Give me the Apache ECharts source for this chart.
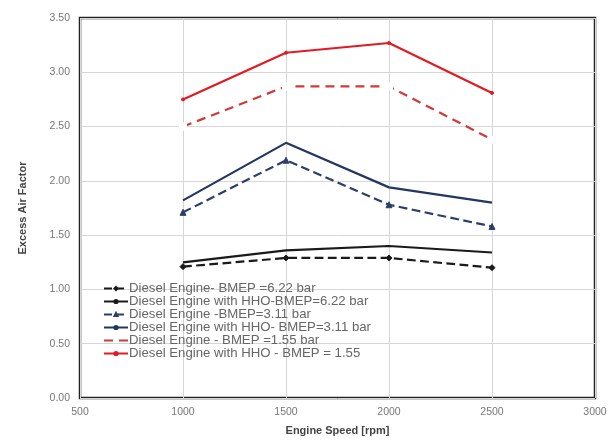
<!DOCTYPE html>
<html><head><meta charset="utf-8">
<script src="https://cdn.jsdelivr.net/npm/echarts@6/dist/echarts.min.js"></script>
<style>html,body{margin:0;padding:0;background:#fff}#c{width:610px;height:445px}</style>
</head><body><div id="c"></div>
<script>
const speeds = [1000, 1500, 2000, 2500];
const deBmep622 = [1.21, 1.29, 1.29, 1.20];
const hhoBmep622 = [1.25, 1.36, 1.40, 1.34];
const deBmep311 = [1.71, 2.19, 1.78, 1.58];
const hhoBmep311 = [1.82, 2.35, 1.94, 1.80];
const deBmep155 = [2.50, 2.87, 2.87, 2.38];
const hhoBmep155 = [2.75, 3.18, 3.27, 2.81];
const seriesNames = [
  'Diesel Engine- BMEP =6.22 bar',
  'Diesel Engine with HHO-BMEP=6.22 bar',
  'Diesel Engine -BMEP=3.11 bar',
  'Diesel Engine with HHO- BMEP=3.11 bar',
  'Diesel Engine - BMEP =1.55 bar',
  'Diesel Engine with HHO - BMEP = 1.55'
];
const seriesData = [deBmep622, hhoBmep622, deBmep311, hhoBmep311, deBmep155, hhoBmep155];
const styles = [
  {color:'#1a1a1a', type:'dashed', width:2.2, symbol:'diamond', size:6},
  {color:'#1a1a1a', type:'solid', width:2.2, symbol:'none', size:0},
  {color:'#2b3f6c', type:'dashed', width:2.2, symbol:'triangle', size:6},
  {color:'#24375f', type:'solid', width:2.2, symbol:'none', size:0},
  {color:'#cf3b3b', type:[9,6], width:2.2, symbol:'emptyRect', size:6},
  {color:'#e01b24', type:'solid', width:2.2, symbol:'circle', size:3}
];
const series = seriesNames.map((n,i)=>({
  name:n, type:'line',
  data: speeds.map((s,j)=>[s, seriesData[i][j]]),
  symbol: styles[i].symbol, symbolSize: styles[i].size,
  showSymbol: styles[i].symbol !== 'none',
  lineStyle:{color:styles[i].color, type:styles[i].type, width:styles[i].width},
  itemStyle:{color: styles[i].symbol==='emptyRect' ? '#fff' : styles[i].color, borderColor:styles[i].color, borderWidth:1},
  animation:false
}));
const chart = echarts.init(document.getElementById('c'));
chart.setOption({
  backgroundColor:'#fff',
  grid:{left:80, right:15, top:18, bottom:47, show:true, borderColor:'#222', borderWidth:2.5},
  legend:{
    orient:'vertical', left:98, top:277, itemWidth:24, itemHeight:4, itemGap:0,
    textStyle:{fontFamily:'Liberation Sans', fontSize:13.2, lineHeight:12.2, color:'#666', padding:[0,0,0,-4]},
    data: seriesNames
  },
  xAxis:{
    type:'value', min:500, max:3000, interval:500,
    name:'Engine Speed [rpm]', nameLocation:'middle', nameGap:27,
    nameTextStyle:{fontFamily:'Liberation Sans', fontWeight:'bold', fontSize:11, color:'#444'},
    axisLine:{show:false}, axisTick:{show:false},
    axisLabel:{fontFamily:'Liberation Sans', fontSize:10.5, color:'#777', margin:9, formatter:v=>String(v)},
    splitLine:{show:true, lineStyle:{color:'#d6d6d6', width:1}}
  },
  yAxis:{
    type:'value', min:0, max:3.5, interval:0.5,
    name:'Excess Air Factor', nameLocation:'middle', nameGap:52,
    nameTextStyle:{fontFamily:'Liberation Sans', fontWeight:'bold', fontSize:11, color:'#444'},
    axisLine:{show:false}, axisTick:{show:false},
    axisLabel:{fontFamily:'Liberation Sans', fontSize:10.5, color:'#777', margin:10, formatter:v=>v.toFixed(2)},
    splitLine:{show:true, lineStyle:{color:'#d6d6d6', width:1}}
  },
  series
});
</script></body></html>
